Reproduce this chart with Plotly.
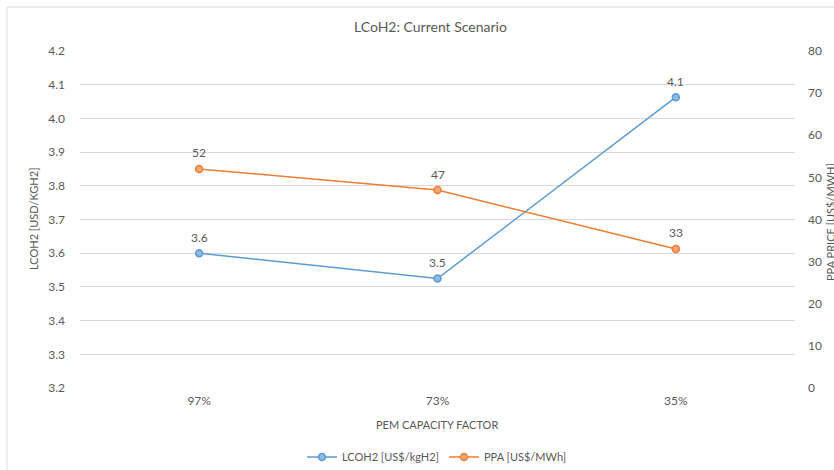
import plotly.graph_objects as go

categories = ["97%", "73%", "35%"]
lcoh2 = [3.6, 3.525, 4.063]
ppa = [52, 47, 33]
lcoh2_labels = ["3.6", "3.5", "4.1"]
ppa_labels = ["52", "47", "33"]

BLUE = "#5B9BD5"
ORANGE = "#ED7D31"
GREY = "#595959"
FONT = "Lato"

W, H = 834, 470
L, R, T, B = 80, 39, 51, 82
PW, PH = W - L - R, H - T - B

def px(x):
    return (x - L) / PW

def py(y):
    return (H - B - y) / PH

fig = go.Figure()
fig.add_trace(go.Scatter(
    x=categories, y=lcoh2, name="LCOH2 [US$/kgH2]", mode="lines+markers",
    line=dict(color=BLUE, width=1.5),
    marker=dict(symbol="circle", size=7, color="#8DB9E3", line=dict(color=BLUE, width=1.5)),
    yaxis="y",
))
fig.add_trace(go.Scatter(
    x=categories, y=ppa, name="PPA [US$/MWh]", mode="lines+markers",
    line=dict(color=ORANGE, width=1.5),
    marker=dict(symbol="circle", size=7, color="#F3A877", line=dict(color=ORANGE, width=1.5)),
    yaxis="y2",
))

annotations = []
for c, v, t in zip(categories, lcoh2, lcoh2_labels):
    annotations.append(dict(x=c, y=v, xref="x", yref="y", text=t, showarrow=False,
                            yshift=16, font=dict(size=12, color=GREY, family=FONT)))
for c, v, t in zip(categories, ppa, ppa_labels):
    annotations.append(dict(x=c, y=v, xref="x", yref="y2", text=t, showarrow=False,
                            yshift=16, font=dict(size=12, color=GREY, family=FONT)))

annotations += [
    dict(text="LCoH2: Current Scenario", x=px(430), y=py(27), xref="paper", yref="paper",
         showarrow=False, font=dict(size=14, color=GREY, family=FONT),
         xanchor="center", yanchor="middle"),
    dict(text="PEM CAPACITY FACTOR", x=px(437), y=py(425), xref="paper", yref="paper",
         showarrow=False, font=dict(size=11, color=GREY, family=FONT),
         xanchor="center", yanchor="middle"),
    dict(text="LCOH2 [USD/KGH2]", x=px(33), y=py(219), xref="paper", yref="paper",
         showarrow=False, textangle=-90, font=dict(size=11, color=GREY, family=FONT),
         xanchor="center", yanchor="middle"),
    dict(text="PPA PRICE [US$/MWH]", x=px(830), y=py(222), xref="paper", yref="paper",
         showarrow=False, textangle=-90, font=dict(size=11, color=GREY, family=FONT),
         xanchor="center", yanchor="middle"),
]

fig.update_layout(
    width=W, height=H,
    margin=dict(l=L, r=R, t=T, b=B, autoexpand=False),
    paper_bgcolor="white", plot_bgcolor="white",
    font=dict(family=FONT, size=12, color=GREY),
    showlegend=True,
    legend=dict(orientation="h", x=px(437), xanchor="center", y=py(457), yanchor="middle",
                font=dict(size=11, color=GREY, family=FONT), itemwidth=30,
                bgcolor="rgba(0,0,0,0)"),
    xaxis=dict(type="category", range=[-0.5, 2.5], showgrid=False, showline=False,
               zeroline=False, ticks="", tickfont=dict(size=12, color=GREY),
               ticklabelstandoff=4),
    yaxis=dict(range=[3.2, 4.2], dtick=0.1, tickformat=".1f", showgrid=True,
               gridcolor="#D9D9D9", gridwidth=1, zeroline=False, showline=False,
               ticks="", tickfont=dict(size=12, color=GREY), ticklabelstandoff=14),
    yaxis2=dict(range=[0, 80], dtick=10, overlaying="y", side="right", showgrid=False,
                zeroline=False, showline=False, ticks="",
                tickfont=dict(size=12, color=GREY), ticklabelstandoff=12),
    shapes=[dict(type="rect", xref="paper", yref="paper",
                 x0=px(7), x1=px(W + 20), y0=py(7), y1=py(H + 20),
                 line=dict(color="#D9D9D9", width=1), fillcolor="rgba(0,0,0,0)",
                 layer="below")],
    annotations=annotations,
)

fig.write_html("out.html")
